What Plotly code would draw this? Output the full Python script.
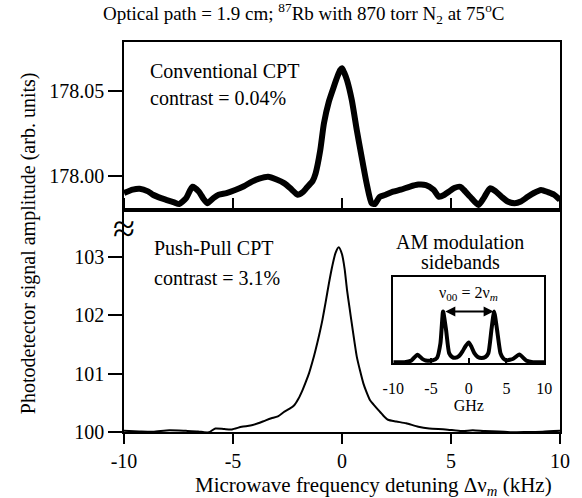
import plotly.graph_objects as go

# ---- Data ----
# Conventional CPT (top panel), detuning in kHz vs amplitude
conv_x = [-10.0, -9.6, -9.28, -8.9, -8.67, -8.3, -8.07, -7.7, -7.47, -7.15, -6.86, -6.56, -6.35, -6.18,
          -5.9, -5.66, -5.3, -4.9, -4.5, -4.15, -3.8, -3.39, -3.0, -2.64, -2.3, -2.04, -1.8, -1.58,
          -1.35, -1.21, -1.0, -0.83, -0.6, -0.38, -0.2, -0.08, 0.0, 0.1, 0.23, 0.45, 0.68, 0.9,
          1.13, 1.36, 1.5, 1.73, 2.0, 2.34, 2.7, 3.09, 3.5, 3.85, 4.2, 4.45, 4.7, 4.9, 5.15, 5.43,
          5.65, 5.88, 6.26, 6.5, 6.79, 7.05, 7.32, 7.6, 7.92, 8.2, 8.52, 8.8, 9.13, 9.45, 9.73, 10.0]
conv_y = [177.990, 177.992, 177.9925, 177.991, 177.989, 177.987, 177.986, 177.9845, 177.9835, 177.987,
          177.9937, 177.9908, 177.9865, 177.984, 177.987, 177.989, 177.990, 177.9918, 177.994, 177.9966,
          177.9985, 177.9996, 177.998, 177.9957, 177.992, 177.989, 177.9905, 177.9937, 177.997,
          178.0016, 178.015, 178.031, 178.044, 178.0525, 178.059, 178.0625, 178.0635, 178.061,
          178.0565, 178.0447, 178.027, 178.0114, 177.9957, 177.984, 177.9835, 177.9878, 177.989,
          177.9908, 177.992, 177.9937, 177.995, 177.9947, 177.992, 177.9878, 177.989, 177.9908,
          177.993, 177.9937, 177.991, 177.9878, 177.983, 177.987, 177.9928, 177.991, 177.9878,
          177.985, 177.984, 177.985, 177.9878, 177.990, 177.9918, 177.9905, 177.989, 177.986]

# Push-Pull CPT (bottom panel)
pp_x = [-10.0, -9.3, -8.67, -7.92, -7.16, -6.6, -6.33, -6.1, -5.81, -5.4, -5.05, -4.6, -4.2, -3.85,
        -3.5, -3.24, -2.94, -2.64, -2.4, -2.19, -2.0, -1.81, -1.66, -1.51, -1.36, -1.21, -1.05, -0.90,
        -0.75, -0.60, -0.45, -0.30, -0.15, 0.0, 0.12, 0.23, 0.35, 0.45, 0.57, 0.68, 0.83, 0.98, 1.13,
        1.28, 1.45, 1.66, 1.9, 2.11, 2.49, 2.94, 3.5, 4.0, 4.75, 5.5, 6.0, 6.56, 7.2, 7.77, 8.52,
        9.2, 10.0]
pp_y = [100.02, 100.01, 100.005, 100.03, 100.02, 100.01, 99.995, 99.995, 100.06, 100.05, 100.045,
        100.09, 100.11, 100.15, 100.2, 100.235, 100.27, 100.35, 100.40, 100.46, 100.57, 100.72,
        100.86, 101.01, 101.20, 101.41, 101.66, 101.92, 102.23, 102.55, 102.84, 103.07, 103.17,
        103.05, 102.80, 102.44, 102.12, 101.86, 101.55, 101.29, 101.05, 100.835, 100.68, 100.55,
        100.47, 100.38, 100.28, 100.21, 100.18, 100.15, 100.09, 100.06, 100.045, 100.015, 100.03,
        100.015, 100.01, 99.995, 100.0, 100.005, 100.02]

# Inset: AM modulation sidebands, GHz vs relative amplitude
am_x = [-10.0, -8.5, -7.6, -6.8, -6.1, -5.7, -4.8, -4.2, -3.75, -3.4, -3.0, -2.6, -2.2, -1.8,
        -1.3, -0.83, -0.4, 0.0, 0.35, 0.74, 1.2, 1.7, 2.2, 2.6, 3.0, 3.36, 3.76, 4.2, 4.6, 5.0,
        5.9, 6.7, 7.6, 8.5, 10.0]
am_y = [0.01, 0.01, 0.03, 0.096, 0.045, 0.03, 0.03, 0.06, 0.23, 0.60, 0.38, 0.115, 0.07, 0.06,
        0.08, 0.135, 0.2, 0.24, 0.19, 0.115, 0.07, 0.058, 0.07, 0.115, 0.38, 0.60, 0.38, 0.115,
        0.05, 0.03, 0.05, 0.10, 0.03, 0.01, 0.01]

x_ticks = [-10, -5, 0, 5, 10]
top_ticks = [178.00, 178.05]
top_ticktext = ["178.00", "178.05"]
bottom_ticks = [100, 101, 102, 103]

FONT = "Liberation Serif, Times New Roman, serif"
BLACK = "#000000"

fig = go.Figure()
fig.add_trace(go.Scatter(x=conv_x, y=conv_y, mode="lines", xaxis="x2", yaxis="y2",
                         line=dict(color=BLACK, width=6, shape="spline", smoothing=0.6),
                         showlegend=False, hoverinfo="skip"))
fig.add_trace(go.Scatter(x=pp_x, y=pp_y, mode="lines", xaxis="x", yaxis="y",
                         line=dict(color=BLACK, width=2, shape="spline", smoothing=0.6),
                         showlegend=False, hoverinfo="skip"))
fig.add_trace(go.Scatter(x=am_x, y=am_y, mode="lines", xaxis="x3", yaxis="y3",
                         line=dict(color=BLACK, width=4, shape="spline", smoothing=0.5),
                         showlegend=False, hoverinfo="skip"))

split = 0.5692
axis_common = dict(showgrid=False, zeroline=False, showline=True, linecolor=BLACK, linewidth=1.5,
                   tickcolor=BLACK, tickwidth=1.5, tickfont=dict(family=FONT, size=20, color=BLACK))

fig.update_layout(
    width=582, height=498,
    margin=dict(l=124, r=16, t=42, b=66),
    paper_bgcolor="white", plot_bgcolor="white",
    font=dict(family=FONT, color=BLACK),
    xaxis=dict(axis_common, domain=[0, 1], anchor="y", range=[-10, 10], tickvals=x_ticks,
               ticktext=[str(v) for v in x_ticks], ticks="outside", ticklen=10, mirror="ticks"),
    yaxis=dict(axis_common, domain=[0, split], anchor="x", range=[100, 103.81], tickvals=bottom_ticks,
               ticks="outside", ticklen=14, mirror=True),
    xaxis2=dict(axis_common, domain=[0, 1], anchor="y2", range=[-10, 10], showticklabels=False,
                ticks="", mirror=True),
    yaxis2=dict(axis_common, domain=[split, 1], anchor="x2", range=[177.98, 178.079], tickvals=top_ticks,
                ticktext=top_ticktext, ticks="outside", ticklen=14, mirror=True),
    xaxis3=dict(axis_common, domain=[0.6176, 0.9638], anchor="y3", range=[-10, 10], tickvals=x_ticks,
                ticktext=[str(v) for v in x_ticks], ticks="inside", ticklen=5, mirror=True,
                ticklabelstandoff=10,
                tickfont=dict(family=FONT, size=16, color=BLACK),
                title=dict(text="GHz", font=dict(family=FONT, size=16, color=BLACK), standoff=0)),
    yaxis3=dict(axis_common, domain=[0.1769, 0.3974], anchor="x3", range=[0, 1], showticklabels=False,
                ticks="", mirror=True),
)

ann = []
ann.append(dict(text="Optical path = 1.9 cm; <sup>87</sup>Rb with 870 torr N<sub>2</sub> at 75<sup>o</sup>C",
                xref="paper", yref="paper", x=0.4118, y=1.0718, xanchor="center", yanchor="middle",
                showarrow=False, font=dict(family=FONT, size=19)))
ann.append(dict(text="Photodetector signal amplitude (arb. units)", textangle=-90,
                xref="paper", yref="paper", x=-0.2172, y=0.485, xanchor="center", yanchor="middle",
                showarrow=False, font=dict(family=FONT, size=20)))
ann.append(dict(text="Microwave frequency detuning Δν<sub><i>m</i></sub> (kHz)",
                xref="paper", yref="paper", x=0.5724, y=-0.138, xanchor="center", yanchor="middle",
                showarrow=False, font=dict(family=FONT, size=21)))
ann.append(dict(text="Conventional CPT", xref="x2", yref="y2", x=-8.91, y=178.0618,
                xanchor="left", yanchor="middle", showarrow=False, font=dict(family=FONT, size=20)))
ann.append(dict(text="contrast = 0.04%", xref="x2", yref="y2", x=-8.91, y=178.0459,
                xanchor="left", yanchor="middle", showarrow=False, font=dict(family=FONT, size=20)))
ann.append(dict(text="Push-Pull CPT", xref="x", yref="y", x=-8.73, y=103.16,
                xanchor="left", yanchor="middle", showarrow=False, font=dict(family=FONT, size=20)))
ann.append(dict(text="contrast = 3.1%", xref="x", yref="y", x=-8.73, y=102.64,
                xanchor="left", yanchor="middle", showarrow=False, font=dict(family=FONT, size=20)))
ann.append(dict(text="AM modulation", xref="x", yref="y", x=5.43, y=103.26,
                xanchor="center", yanchor="middle", showarrow=False, font=dict(family=FONT, size=20)))
ann.append(dict(text="sidebands", xref="x", yref="y", x=5.43, y=102.92,
                xanchor="center", yanchor="middle", showarrow=False, font=dict(family=FONT, size=20)))
ann.append(dict(text="ν<sub>00</sub> = 2ν<sub><i>m</i></sub>", xref="x3", yref="y3", x=0, y=0.81,
                xanchor="center", yanchor="middle", showarrow=False, font=dict(family=FONT, size=16)))
ann.append(dict(text="", xref="x3", yref="y3", x=3.3, y=0.6, ax=-3.3, ay=0.6, axref="x3", ayref="y3",
                showarrow=True, arrowhead=2, startarrowhead=2, arrowside="end+start", arrowsize=1,
                arrowwidth=2, arrowcolor=BLACK))
ann.append(dict(text="≈", xref="paper", yref="paper", x=0, y=(432 - 229) / 390,
                xanchor="center", yanchor="middle", showarrow=False, font=dict(family=FONT, size=40)))
fig.update_layout(annotations=ann)

fig.write_html("out.html", config={"displayModeBar": False},
               post_script="document.body.style.margin='0';document.body.style.padding='0';"
                           "document.body.style.overflow='hidden';")
